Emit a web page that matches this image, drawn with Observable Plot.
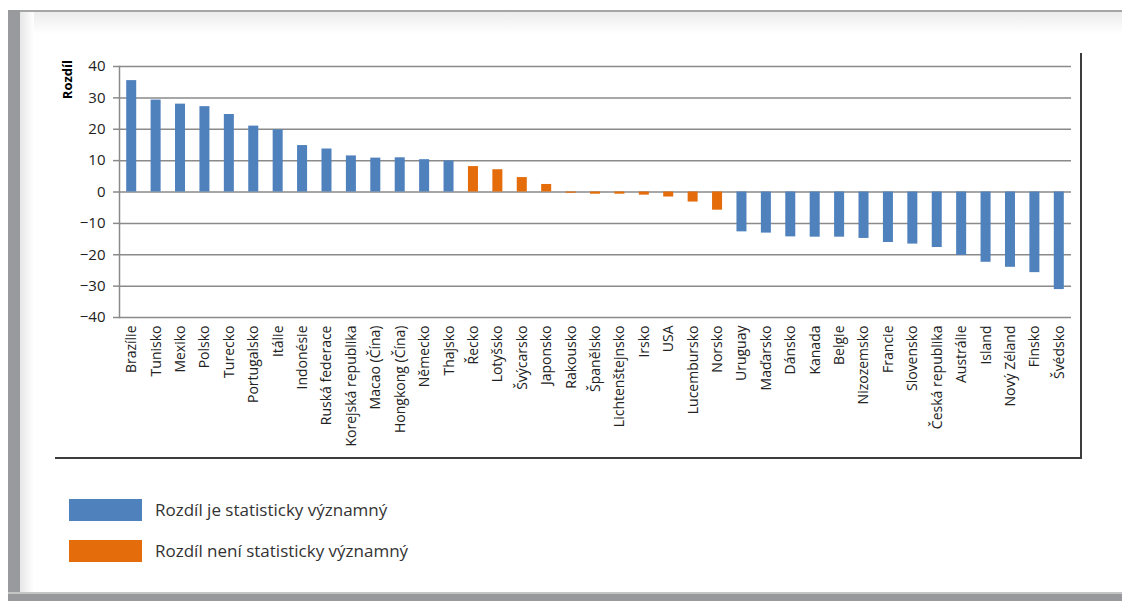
<!DOCTYPE html>
<html>
<head>
<meta charset="utf-8">
<script src="https://cdn.jsdelivr.net/npm/d3@7"></script>
<script src="https://cdn.jsdelivr.net/npm/@observablehq/plot@0.6"></script>
<style>
  html, body { margin: 0; padding: 0; background: #fff; overflow: hidden; }
  #wrap { position: relative; width: 1122px; height: 601px; font-family: "Open Sans", sans-serif; }
  .abs { position: absolute; }
  #chart { position: absolute; left: 0; top: 0; }
  .legtext { position: absolute; font-size: 17px; color: #333; line-height: 22px; }
</style>
</head>
<body>
<div id="wrap">
  <div class="abs" style="left:8px;top:12px;width:1114px;height:22px;background:linear-gradient(#ececec,#ffffff);"></div>
  <div class="abs" style="left:20px;top:10px;width:14px;height:590px;background:linear-gradient(to right,#e6e6e6,#ffffff);"></div>
  <div id="chart"></div>
  <div class="abs" style="left:8px;top:10px;width:1114px;height:2px;background:#a6a6a6;"></div>
  <div class="abs" style="left:8px;top:10px;width:12px;height:591px;background:#999a9e;"></div>
  <div class="abs" style="left:8px;top:592px;width:1114px;height:2px;background:#c4c4c4;"></div>
  <div class="abs" style="left:8px;top:594px;width:1114px;height:7px;background:#98999c;"></div>
  <div class="abs" style="left:1080px;top:53px;width:2px;height:406px;background:#3c3c3c;"></div>
  <div class="abs" style="left:55px;top:457px;width:1027px;height:2px;background:#3c3c3c;"></div>
  <div class="abs" style="left:69px;top:499px;width:73px;height:22px;background:#4f81bd;"></div>
  <div class="abs" style="left:69px;top:540px;width:73px;height:22px;background:#e46c0a;"></div>
  <div class="legtext" style="left:155px;top:499px;">Rozdíl je statisticky významný</div>
  <div class="legtext" style="left:155px;top:540px;">Rozdíl není statisticky významný</div>
</div>
<script>
const categories = ["Brazílie","Tunisko","Mexiko","Polsko","Turecko","Portugalsko","Itálie","Indonésie","Ruská federace","Korejská republika","Macao (Čína)","Hongkong (Čína)","Německo","Thajsko","Řecko","Lotyšsko","Švýcarsko","Japonsko","Rakousko","Španělsko","Lichtenštejnsko","Irsko","USA","Lucembursko","Norsko","Uruguay","Maďarsko","Dánsko","Kanada","Belgie","Nizozemsko","Francie","Slovensko","Česká republika","Austrálie","Island","Nový Zéland","Finsko","Švédsko"];
const values = [35.5,29.3,28.0,27.2,24.7,21.0,19.8,14.8,13.7,11.5,10.8,10.9,10.3,9.9,8.1,7.1,4.6,2.4,-0.4,-0.7,-0.7,-1.0,-1.6,-3.2,-5.8,-12.7,-13.1,-14.3,-14.4,-14.4,-14.8,-16.1,-16.6,-17.7,-20.2,-22.4,-24.0,-25.7,-31.1];
const notSignificant = ["Řecko","Lotyšsko","Švýcarsko","Japonsko","Rakousko","Španělsko","Lichtenštejnsko","Irsko","USA","Lucembursko","Norsko"];
const yTicks = [-40,-30,-20,-10,0,10,20,30,40];
const groups = ["Rozdíl je statisticky významný","Rozdíl není statisticky významný"];
const groupColors = ["#4f81bd","#e46c0a"];
const yTitle = "Rozdíl";

const data = categories.map((c, i) => ({
  name: c,
  value: values[i],
  group: notSignificant.includes(c) ? groups[1] : groups[0]
}));

const chart = Plot.plot({
  width: 1122,
  height: 601,
  marginLeft: 119,
  marginRight: 51,
  marginTop: 66,
  marginBottom: 284,
  style: { fontFamily: "Open Sans, sans-serif", background: "transparent" },
  x: { domain: categories, padding: 0, round: false, label: null },
  y: { domain: [-40, 40], label: null },
  color: { domain: groups, range: groupColors },
  marks: [
    Plot.gridY(yTicks, { stroke: "#8a8a8a", strokeOpacity: 1, strokeWidth: 1.5 }),
    Plot.frame({ anchor: "left", stroke: "#8a8a8a", strokeWidth: 1.5 }),
    Plot.barY(data, { x: "name", y: "value", fill: "group", insetLeft: 7.2, insetRight: 7.2 }),
    Plot.axisY(yTicks, { tickSize: 6, tickPadding: 8, stroke: "#8a8a8a", strokeWidth: 1.5, fill: "#222", fontSize: 15, label: null }),
    Plot.axisX({ tickSize: 0, tickPadding: 8, tickRotate: -90, fontSize: 14, fill: "#222", label: null })
  ]
});
d3.select(chart).append("text")
  .attr("transform", "translate(67,60) rotate(-90)")
  .attr("text-anchor", "end")
  .attr("dy", "0.35em")
  .attr("font-weight", "bold")
  .attr("font-size", 13)
  .attr("fill", "#000")
  .text(yTitle);
document.getElementById("chart").appendChild(chart);
</script>
</body>
</html>
